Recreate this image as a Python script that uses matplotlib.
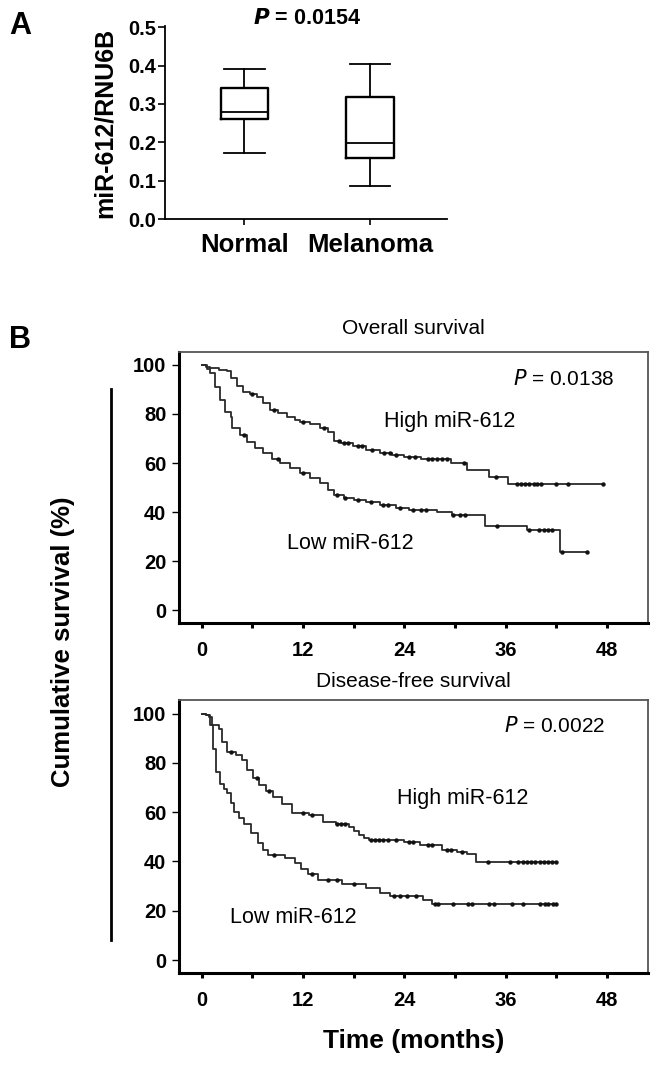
import numpy as np
import matplotlib
matplotlib.use("Agg")
import matplotlib.pyplot as plt
from matplotlib.lines import Line2D

plt.rcParams['font.family'] = ['Liberation Sans', 'DejaVu Sans']

# ---- panel A: box plot values
groups = ['Normal', 'Melanoma']
whislo = [0.173, 0.087]
q1 = [0.262, 0.160]
med = [0.279, 0.199]
q3 = [0.342, 0.318]
whishi = [0.392, 0.403]

# ---- panel B: Kaplan-Meier step curves (time in months, survival in %)
os_high_t = [0, 0.5, 1.0, 2.0, 3.0, 3.5, 4.2, 4.9, 5.7, 6.5, 7.3, 8.1, 9.0, 10.1, 11.0, 11.6,
             12.8, 14.0, 15.0, 15.6, 16.5, 17.9, 19.5, 21.1, 22.5, 23.9, 26.0, 29.5, 31.4, 34.0, 36.3]
os_high_s = [100, 99.2, 98.7, 98.0, 97.4, 94.5, 91.5, 89.0, 88.0, 87.0, 84.5, 81.6, 80.3, 78.9, 77.6, 76.9,
             75.8, 74.2, 72.5, 68.8, 68.0, 66.8, 65.5, 64.0, 63.2, 62.6, 61.6, 59.9, 57.1, 54.4, 51.4]
os_high_cens = [6.0, 8.5, 12.0, 14.5, 16.2, 16.8, 17.3, 18.5, 19.0, 20.2, 21.6, 22.3, 23.0, 24.5, 25.2,
                26.8, 27.3, 27.8, 28.4, 29.0, 31.0, 34.8, 37.3, 37.8, 38.3, 38.8, 39.3, 39.7, 40.2,
                42.0, 43.4, 47.5]

os_low_t = [0, 0.6, 1.0, 1.6, 2.2, 2.8, 3.4, 3.6, 4.5, 5.4, 6.3, 7.3, 8.3, 9.3, 10.5, 11.6,
            12.8, 14.0, 15.0, 15.6, 16.8, 18.0, 19.5, 21.1, 23.0, 24.5, 27.8, 29.6, 33.5, 38.5, 42.4]
os_low_s = [100, 98.5, 96.6, 91.1, 85.7, 80.9, 78.9, 74.1, 71.5, 68.7, 66.2, 63.9, 61.8, 59.9, 57.8, 55.8,
            53.8, 51.7, 49.0, 46.9, 45.9, 44.9, 43.9, 42.9, 41.5, 40.8, 40.1, 38.8, 34.3, 32.7, 23.8]
os_low_cens = [5.0, 9.0, 12.0, 16.0, 17.0, 18.5, 20.0, 21.5, 22.0, 23.5, 25.0, 26.0, 26.5, 29.8,
               30.6, 31.2, 35.0, 38.8, 39.9, 40.5, 41.0, 41.5, 42.7, 45.6]

dfs_high_t = [0, 0.5, 0.8, 1.2, 2.0, 2.4, 3.0, 4.0, 4.8, 5.4, 6.1, 6.8, 7.6, 8.4, 9.5, 10.7,
              12.7, 14.3, 15.9, 17.4, 18.0, 18.6, 19.2, 19.8, 23.9, 25.8, 28.4, 30.2, 31.4, 32.5]
dfs_high_s = [100, 99.3, 98.6, 95.3, 93.9, 88.5, 84.4, 83.0, 81.1, 77.0, 74.0, 70.9, 68.5, 66.2, 63.5, 59.5,
              58.8, 56.1, 55.4, 54.0, 52.5, 50.7, 49.5, 48.6, 48.0, 46.6, 44.6, 43.9, 43.2, 39.9]
dfs_high_cens = [3.5, 6.5, 8.0, 12.0, 13.0, 16.0, 16.5, 17.0, 20.0, 20.5, 21.0, 21.5, 22.0, 23.0,
                 24.5, 25.0, 26.8, 27.3, 29.0, 29.5, 30.8, 33.9, 36.5, 37.5, 38.0, 38.5, 39.0,
                 39.5, 40.0, 40.5, 41.0, 41.5, 42.0]

dfs_low_t = [0, 0.5, 1.0, 1.3, 1.7, 2.2, 2.6, 3.0, 3.4, 3.8, 4.4, 5.0, 5.8, 6.6, 7.2, 7.8,
             9.8, 11.0, 11.8, 12.6, 13.8, 16.6, 19.4, 21.1, 22.3, 26.2, 27.2]
dfs_low_s = [100, 99.3, 95.3, 85.8, 76.3, 71.6, 69.5, 67.6, 63.8, 60.1, 57.8, 55.4, 51.4, 47.3, 44.5, 42.6,
             41.2, 39.2, 37.0, 35.1, 32.4, 30.8, 29.1, 27.0, 25.9, 24.3, 22.7]
dfs_low_cens = [8.5, 13.0, 15.0, 16.0, 18.0, 22.8, 23.5, 24.3, 25.4, 27.6, 28.0, 29.8, 31.5, 32.0,
                34.0, 34.6, 36.7, 38.0, 40.0, 40.6, 41.0, 41.6, 42.0]

month_ticks = [0, 12, 24, 36, 48]
surv_ticks = [0, 20, 40, 60, 80, 100]


def km(ax, t, s, cens):
    t = np.array(t)
    s = np.array(s)
    c = np.array(cens)
    tt = np.append(t, c.max())
    ss = np.append(s, s[-1])
    ax.step(tt, ss, where='post', color='#2a2a2a', lw=1.3)
    cy = s[np.searchsorted(t, c, side='right') - 1]
    ax.plot(c, cy, 'o', ms=2.8, color='#111111', mec='#111111', mew=0.3)


def style_km(ax):
    ax.set_xlim(-2.7, 52.8)
    ax.set_ylim(-5.4, 105.4)
    ax.set_xticks(month_ticks)
    ax.set_xticks([6, 18, 30, 42], minor=True)
    ax.set_yticks(surv_ticks)
    ax.tick_params(axis='both', which='both', direction='out', labelsize=14.5)
    ax.tick_params(axis='x', which='both', length=3.5, width=2.2, pad=9)
    ax.tick_params(axis='y', length=5, width=1.0, pad=4)
    for lab in ax.get_xticklabels() + ax.get_yticklabels():
        lab.set_fontweight('bold')
    for side in ['left', 'bottom']:
        ax.spines[side].set_linewidth(2.2)
        ax.spines[side].set_color('black')
    for side in ['top', 'right']:
        ax.spines[side].set_linewidth(1.3)
        ax.spines[side].set_color('#555555')


fig = plt.figure(figsize=(6.53, 10.69), dpi=100)

# ---------------- panel A
axA = fig.add_axes([0.2527, 0.7951, 0.4319, 0.1805])
stats = [dict(label=g, whislo=lo, q1=a, med=m, q3=b, whishi=hi)
         for g, lo, a, m, b, hi in zip(groups, whislo, q1, med, q3, whishi)]
axA.bxp(stats, positions=[1, 2], widths=0.375, capwidths=0.32, showfliers=False,
        boxprops=dict(color='black', lw=1.7),
        whiskerprops=dict(color='black', lw=1.3),
        capprops=dict(color='black', lw=1.3),
        medianprops=dict(color='black', lw=1.3))
axA.set_xlim(0.367, 2.614)
axA.set_ylim(0, 0.503)
axA.set_yticks([0.0, 0.1, 0.2, 0.3, 0.4, 0.5])
axA.set_yticklabels(['0.0', '0.1', '0.2', '0.3', '0.4', '0.5'])
axA.spines['top'].set_visible(False)
axA.spines['right'].set_visible(False)
axA.spines['left'].set_linewidth(1.3)
axA.spines['bottom'].set_linewidth(1.3)
axA.tick_params(axis='y', direction='out', length=5, width=1.2, pad=1.5, labelsize=14.5)
axA.tick_params(axis='x', direction='out', length=4, width=1.2, pad=6, labelsize=18.5)
for lab in axA.get_xticklabels() + axA.get_yticklabels():
    lab.set_fontweight('bold')
axA.set_ylabel('miR-612/RNU6B', fontsize=18, fontweight='bold', labelpad=8)
axA.text(1.5, 0.522, r'$\bfit{P}$' + ' = 0.0154', ha='center', va='center', fontsize=15.5,
         fontweight='bold', clip_on=False)

# ---------------- panel B, overall survival
axB1 = fig.add_axes([0.2741, 0.4169, 0.7178, 0.2541])
km(axB1, os_high_t, os_high_s, os_high_cens)
km(axB1, os_low_t, os_low_s, os_low_cens)
style_km(axB1)
axB1.text(0.5, 1.085, 'Overall survival', transform=axB1.transAxes, ha='center', va='center',
          fontsize=15)
axB1.text(29.4, 76.9, 'High miR-612', ha='center', va='center', fontsize=15.5)
axB1.text(17.6, 27.3, 'Low miR-612', ha='center', va='center', fontsize=15.5)
axB1.text(42.8, 94.3, r'$\it{P}$' + ' = 0.0138', ha='center', va='center', fontsize=15)

# ---------------- panel B, disease-free survival
axB2 = fig.add_axes([0.2741, 0.0895, 0.7178, 0.2554])
km(axB2, dfs_high_t, dfs_high_s, dfs_high_cens)
km(axB2, dfs_low_t, dfs_low_s, dfs_low_cens)
style_km(axB2)
axB2.text(0.5, 1.068, 'Disease-free survival', transform=axB2.transAxes, ha='center', va='center',
          fontsize=15)
axB2.text(30.9, 65.5, 'High miR-612', ha='center', va='center', fontsize=15.5)
axB2.text(10.8, 17.3, 'Low miR-612', ha='center', va='center', fontsize=15.5)
axB2.text(41.8, 95.0, r'$\it{P}$' + ' = 0.0022', ha='center', va='center', fontsize=15)
axB2.set_xlabel('Time (months)', fontsize=19, fontweight='bold', labelpad=14)

# shared y label with its bar
fig.text(63 / 653, 1 - 642 / 1069, 'Cumulative survival (%)', rotation=90, ha='center', va='center',
         fontsize=18.5, fontweight='bold')
fig.add_artist(Line2D([110.7 / 653, 110.7 / 653], [1 - 389 / 1069, 1 - 940 / 1069],
                      color='black', lw=2))

# panel letters
fig.text(20 / 653, 1 - 26 / 1069, 'A', ha='center', va='center', fontsize=22, fontweight='bold')
fig.text(20 / 653, 1 - 340 / 1069, 'B', ha='center', va='center', fontsize=22, fontweight='bold')

fig.savefig('out.png', dpi=100)
